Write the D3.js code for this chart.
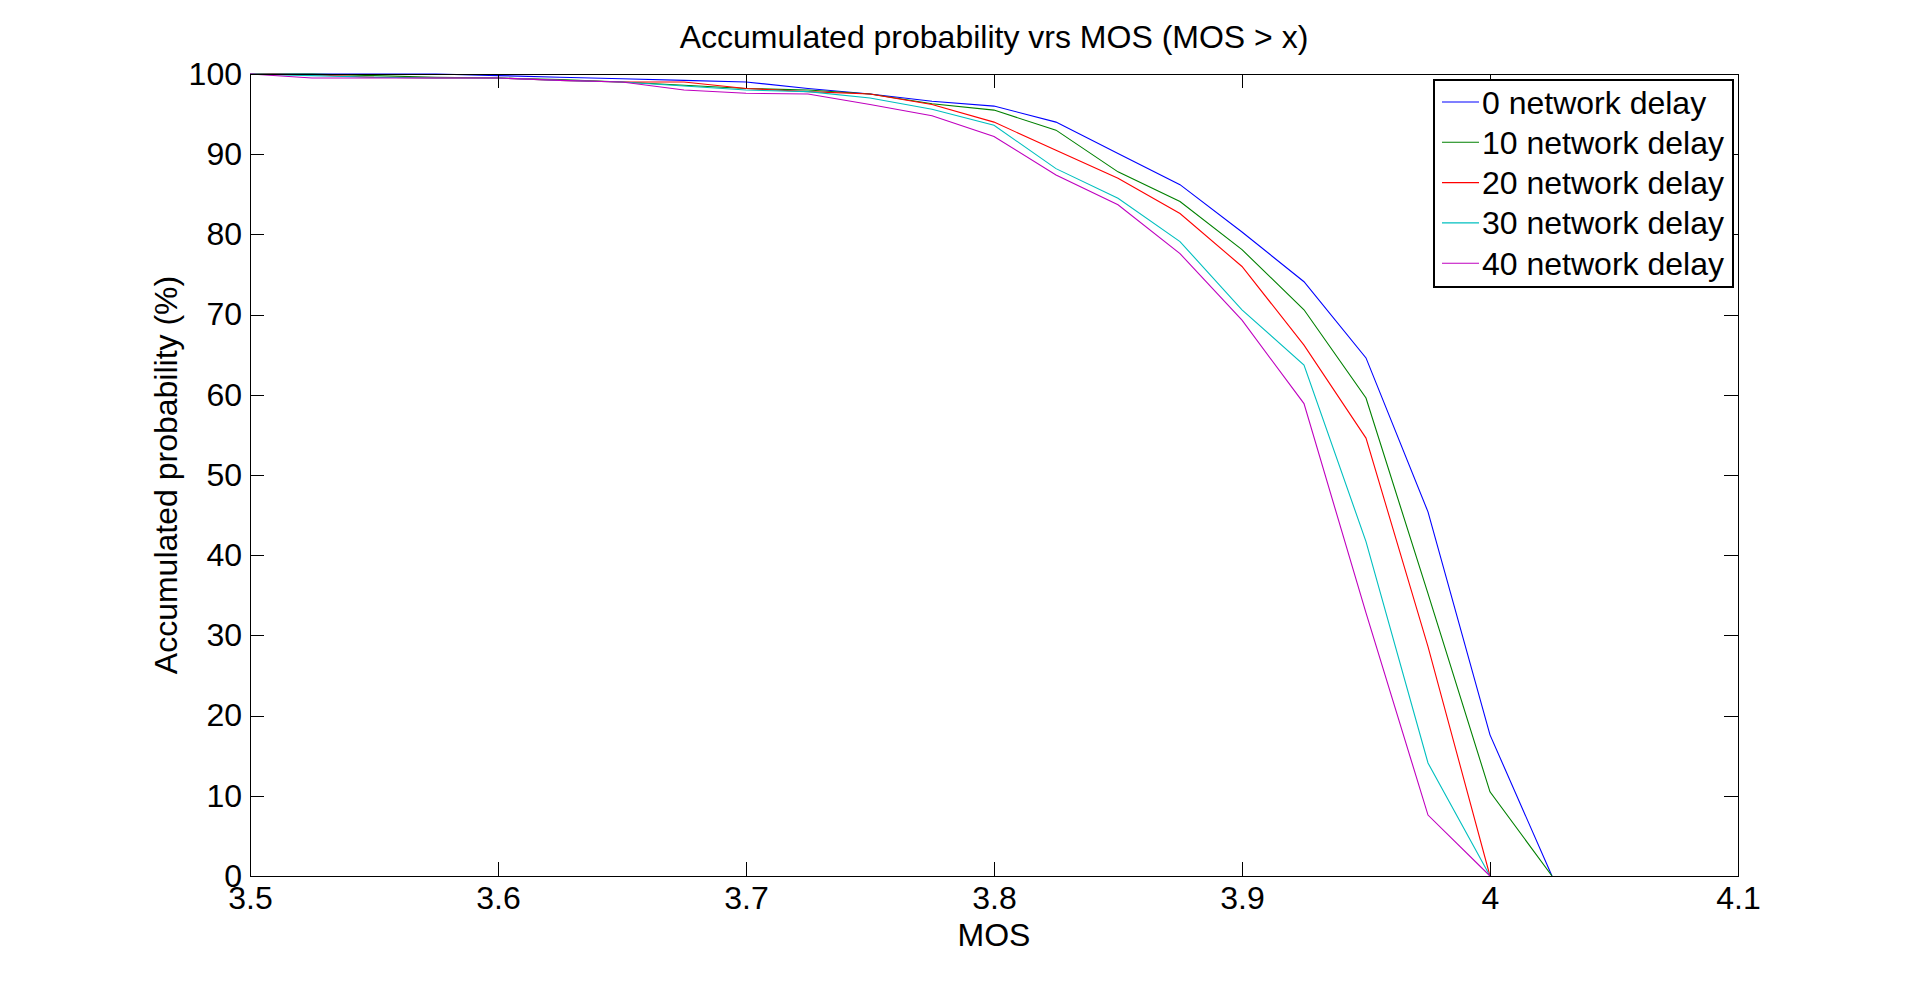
<!DOCTYPE html>
<html>
<head>
<meta charset="utf-8">
<script src="https://cdn.jsdelivr.net/npm/d3@7"></script>
<style>
  body { margin: 0; background: #fff; }
  svg { display: block; font-family: "Liberation Sans", Arial, Helvetica, sans-serif; }
  .axis path, .axis line { stroke: #000; shape-rendering: crispEdges; }
  .axis text { font-size: 32px; fill: #000; font-family: "Liberation Sans", Arial, sans-serif; }
  .label { font-size: 32px; fill: #000; }
  .series { fill: none; stroke-width: 1.1; }
</style>
</head>
<body>
<svg width="1920" height="984"></svg>
<script>
// MOS thresholds (x)
const mos = [3.5, 3.525, 3.55, 3.575, 3.6, 3.625, 3.65, 3.675, 3.7, 3.725, 3.75,
  3.775, 3.8, 3.825, 3.85, 3.875, 3.9, 3.925, 3.95, 3.975, 4.0, 4.025];

// accumulated probability (%) for each network delay
const delay0 = [100, 100, 100, 100, 99.8, 99.6, 99.4, 99.2, 99.0, 98.2, 97.5,
  96.6, 96.0, 94.0, 90.1, 86.2, 80.3, 74.1, 64.6, 45.4, 17.6, 0];
const delay10 = [100, 100, 99.8, 99.6, 99.5, 99.3, 99.0, 98.6, 98.2, 98.0, 97.5,
  96.3, 95.5, 93.0, 87.8, 84.1, 78.1, 70.6, 59.6, 35.2, 10.5, 0];
const delay20 = [100, 99.9, 99.6, 99.5, 99.5, 99.2, 99.0, 99.0, 98.2, 97.8, 97.5,
  96.2, 94.0, 90.5, 87.0, 82.6, 76.0, 66.2, 54.6, 28.6, 0];
const delay30 = [100, 99.8, 99.6, 99.5, 99.5, 99.2, 99.0, 98.5, 98.0, 97.8, 97.0,
  95.6, 93.6, 88.2, 84.5, 79.1, 70.6, 63.7, 41.7, 14.1, 0];
const delay40 = [100, 99.5, 99.5, 99.5, 99.5, 99.2, 99.0, 98.0, 97.6, 97.5, 96.2,
  94.8, 92.2, 87.4, 83.7, 77.6, 69.3, 58.9, 32.8, 7.6, 0];

const seriesNames = ['0 network delay', '10 network delay', '20 network delay',
  '30 network delay', '40 network delay'];
const seriesValues = [delay0, delay10, delay20, delay30, delay40];
const seriesColors = ['#0000ff', '#008000', '#ff0000', '#00bfbf', '#bf00bf'];

const xTicks = [3.5, 3.6, 3.7, 3.8, 3.9, 4.0, 4.1];
const xTickLabels = ['3.5', '3.6', '3.7', '3.8', '3.9', '4', '4.1'];
const yTicks = [0, 10, 20, 30, 40, 50, 60, 70, 80, 90, 100];

const svg = d3.select('svg');

const plotLeft = 250, plotRight = 1738, plotTop = 74, plotBottom = 876;

const x = d3.scaleLinear().domain([3.5, 4.1]).range([plotLeft, plotRight]);
const y = d3.scaleLinear().domain([0, 100]).range([plotBottom, plotTop]);

// series lines (drawn first so the axes sit on top)
const line = d3.line()
  .x((d) => x(d[0]))
  .y((d) => y(d[1]));

seriesValues.forEach((vals, i) => {
  const pts = vals.map((v, k) => [mos[k], v]);
  svg.append('path')
    .attr('class', 'series')
    .attr('d', line(pts))
    .attr('stroke', seriesColors[i]);
});

// axes, ticks pointing inward on all four sides
const fmtX = (d) => xTickLabels[xTicks.indexOf(d)];

svg.append('g')
  .attr('class', 'axis')
  .attr('transform', `translate(0, ${plotBottom})`)
  .call(d3.axisBottom(x).tickValues(xTicks).tickFormat(fmtX)
    .tickSizeInner(-14).tickSizeOuter(0).tickPadding(10));

svg.append('g')
  .attr('class', 'axis')
  .attr('transform', `translate(0, ${plotTop})`)
  .call(d3.axisTop(x).tickValues(xTicks).tickFormat('')
    .tickSizeInner(-14).tickSizeOuter(0));

svg.append('g')
  .attr('class', 'axis')
  .attr('transform', `translate(${plotLeft}, 0)`)
  .call(d3.axisLeft(y).tickValues(yTicks).tickFormat(d3.format('d'))
    .tickSizeInner(-14).tickSizeOuter(0).tickPadding(8));

svg.append('g')
  .attr('class', 'axis')
  .attr('transform', `translate(${plotRight}, 0)`)
  .call(d3.axisRight(y).tickValues(yTicks).tickFormat('')
    .tickSizeInner(-14).tickSizeOuter(0));

svg.selectAll('.axis .domain').attr('stroke-width', 1.5);

// title and axis labels
svg.append('text')
  .attr('class', 'label')
  .attr('x', (plotLeft + plotRight) / 2)
  .attr('y', 48)
  .attr('text-anchor', 'middle')
  .text('Accumulated probability vrs MOS (MOS > x)');

svg.append('text')
  .attr('class', 'label')
  .attr('x', (plotLeft + plotRight) / 2)
  .attr('y', 946)
  .attr('text-anchor', 'middle')
  .text('MOS');

svg.append('text')
  .attr('class', 'label')
  .attr('transform', `translate(177, ${(plotTop + plotBottom) / 2}) rotate(-90)`)
  .attr('text-anchor', 'middle')
  .text('Accumulated probability (%)');

// legend
const legend = svg.append('g').attr('transform', 'translate(1434, 80)');

legend.append('rect')
  .attr('width', 299)
  .attr('height', 207)
  .attr('fill', '#fff')
  .attr('stroke', '#000')
  .attr('stroke-width', 1.2)
  .attr('shape-rendering', 'crispEdges');

const rows = legend.selectAll('.row')
  .data(seriesNames)
  .enter()
  .append('g')
  .attr('class', 'row')
  .attr('transform', (d, i) => `translate(0, ${22 + i * 40.3})`);

rows.append('line')
  .attr('x1', 8)
  .attr('x2', 45)
  .attr('stroke', (d, i) => seriesColors[i])
  .attr('stroke-width', 1.1);

rows.append('text')
  .attr('class', 'label')
  .attr('x', 48)
  .attr('y', 11.5)
  .text((d) => d);
</script>
</body>
</html>
